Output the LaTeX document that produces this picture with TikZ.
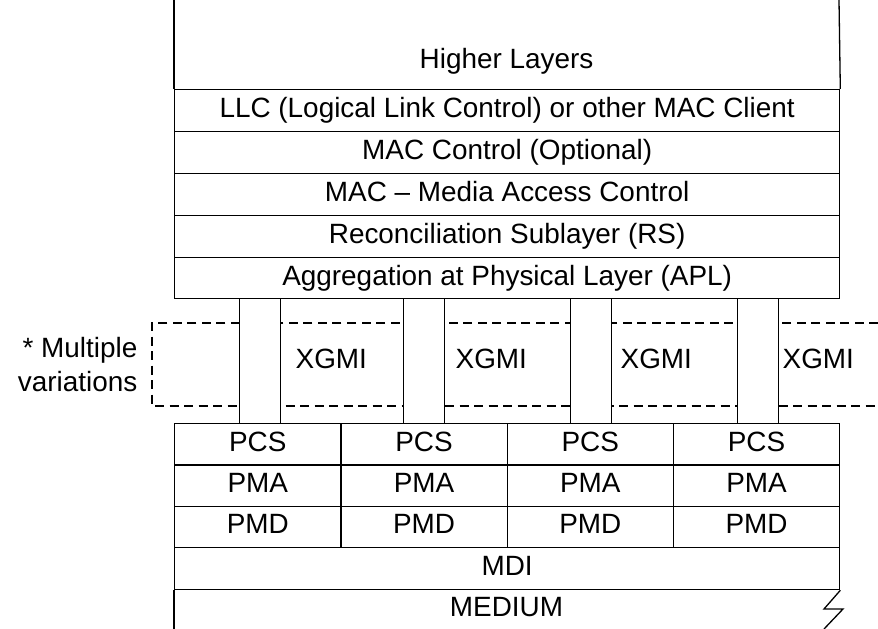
\documentclass[tikz,border=0pt]{standalone}
\usepackage{fontspec}
\setmainfont{Liberation Sans}
\begin{document}
\begin{tikzpicture}[x=1bp,y=-1bp, line width=1.3bp,
  lbl/.style={font=\fontsize{28}{30}\selectfont, text height=20bp, text depth=6bp, inner sep=0pt},
  rowbox/.style={lbl, draw, minimum width=665bp, minimum height=42bp, anchor=north west},
  cellbox/.style={lbl, draw, minimum width=166.25bp, minimum height=41.33bp, anchor=north west},
  stripbox/.style={draw, fill=white, minimum width=41bp, minimum height=125bp, anchor=north west, inner sep=0pt},
  varline/.style={dash pattern=on 9bp off 5.5bp}]
\useasboundingbox (0,0) rectangle (878,629);
% upper stack
\coordinate (tl) at (174,0);
\coordinate (tr) at (839,0);
\node[lbl] (hl) at (506.5,62) {Higher Layers};
\node[rowbox] (llc) at (174,89) {LLC (Logical Link Control) or other MAC Client};
\node[rowbox] (macc) at (174,131) {MAC Control (Optional)};
\node[rowbox] (mac) at (174,173) {MAC \textendash\ Media Access Control};
\node[rowbox] (rs) at (174,215) {Reconciliation Sublayer (RS)};
\node[rowbox, minimum height=41bp] (apl) at (174,257) {Aggregation at Physical Layer (APL)};
\draw (tl) -- (llc.north west);
\draw (tr) -- (llc.north east);
% dashed variations box
\coordinate (d1) at (878,323);
\coordinate (d2) at (152,406);
\coordinate (d3) at (878,406);
\draw[varline] (d1) -| (d2) -- (d3);
\node[lbl, anchor=base east] (m1) at (138,357) {* Multiple};
\node[lbl, anchor=base east] (m2) at (138,391) {variations};
% XGMI strips
\foreach \i/\x in {1/239,2/403,3/570,4/737}{
  \node[stripbox] (x\i) at (\x,298) {};
}
\foreach \i/\x in {1/295,2/455,3/620,4/782}{
  \node[lbl, anchor=base west] (g\i) at (\x,368) {XGMI};
}
% lower stack
\foreach \c/\x in {1/174,2/340.25,3/506.5,4/672.75}{
  \node[cellbox] (pcs\c) at (\x,423) {PCS};
  \node[cellbox] (pma\c) at (\x,464.33) {PMA};
  \node[cellbox] (pmd\c) at (\x,505.67) {PMD};
}
\node[rowbox] (mdi) at (174,547) {MDI};
\node[lbl] (med) at (506.5,609) {MEDIUM};
\coordinate (bl) at (174,629);
\coordinate (z1) at (824,609);
\coordinate (z2) at (843,609);
\coordinate (z3) at (824,629);
\draw (mdi.south west) -- (bl);
\draw (mdi.south east) -- (z1) -- (z2) -- (z3);
\end{tikzpicture}
\end{document}
